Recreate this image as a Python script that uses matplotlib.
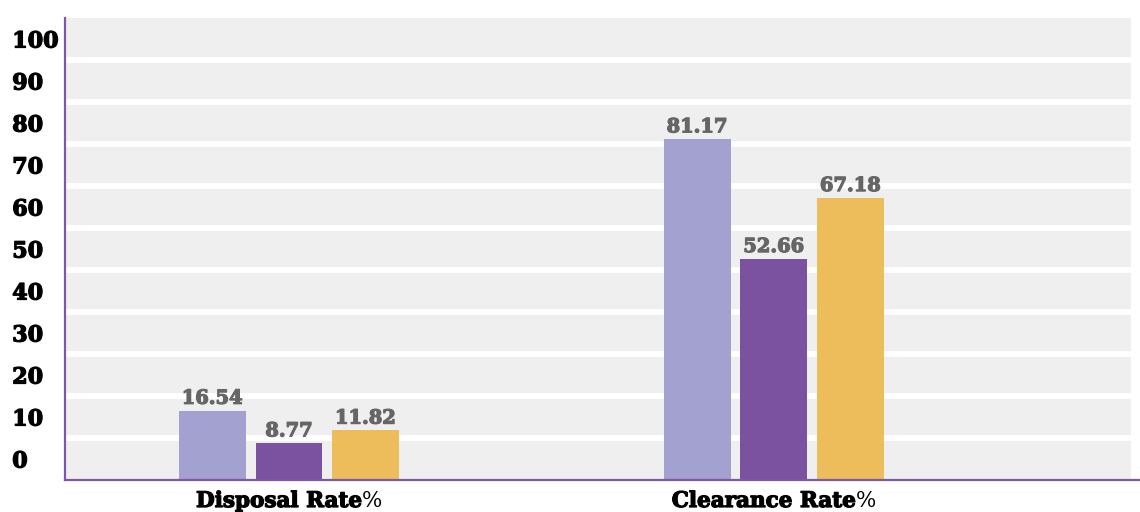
import numpy as np
import matplotlib
matplotlib.use("Agg")
from matplotlib import pyplot as plt
from matplotlib import patheffects as pe

# rates per category, three series each
categories = ["Disposal Rate", "Clearance Rate"]
series_a = [16.54, 81.17]
series_b = [8.77, 52.66]
series_c = [11.82, 67.18]
y_ticks = [0, 10, 20, 30, 40, 50, 60, 70, 80, 90, 100]

colors = ["#a3a1cf", "#7b52a0", "#edbd5b"]
purple = "#7e57a7"
band_gray = "#efefef"
serif = ["DejaVu Serif"]


def heavy(color):
    # thicken the bold serif a little
    return [pe.withStroke(linewidth=0.9, foreground=color)]


fig = plt.figure(figsize=(11.4, 5.12), dpi=100)
ax = fig.add_axes([65 / 1140, 32 / 512, 1075 / 1140, 462 / 512])

x = np.arange(len(categories))
width = 0.138
step = 0.158

# gray banded background with white separators
ax.axhspan(0, 110, xmin=0, xmax=0.9916, color=band_gray, zorder=0, lw=0)
for v in y_ticks[1:]:
    ax.axhline(v, xmin=0, xmax=0.9916, color="white", lw=4.2, zorder=1)

for i, (vals, c) in enumerate(zip([series_a, series_b, series_c], colors)):
    bars = ax.bar(x + (i - 1) * step, vals, width, color=c, zorder=2)
    ax.bar_label(bars, labels=[f"{v:.2f}" for v in vals], padding=2,
                 color="#666666", fontsize=14, fontweight="bold",
                 family=serif, path_effects=heavy("#666666"))

ax.set_xlim(-0.462, 1.755)
ax.set_ylim(0, 110)

# y labels sit in the middle of each band
ax.set_yticks([v + 5 for v in y_ticks])
ax.set_yticklabels([str(v) for v in y_ticks])
ax.tick_params(axis="y", length=0, pad=38)
for lbl in ax.get_yticklabels():
    lbl.set_ha("left")
    lbl.set_fontsize(16)
    lbl.set_fontweight("bold")
    lbl.set_family(serif)
    lbl.set_color("black")
    lbl.set_path_effects(heavy("black"))

ax.set_xticks([])

# category names: bold name followed by a plain percent sign, centred together
names = []
pcts = []
for xi, name in zip(x, categories):
    t = ax.annotate(name, xy=(xi, 0), xycoords=("data", "axes fraction"),
                    xytext=(0, -10), textcoords="offset pixels",
                    ha="center", va="top", fontsize=15.5, fontweight="bold",
                    family=serif, color="black", path_effects=heavy("black"))
    p = ax.annotate("%", xy=(1, 0), xycoords=t, ha="left", va="bottom",
                    fontsize=15.5, family=serif, color="black")
    names.append(t)
    pcts.append(p)

fig.canvas.draw()
for t, p in zip(names, pcts):
    w = p.get_window_extent().width
    t.xyann = (-w / 2, -10)

for side in ["top", "right"]:
    ax.spines[side].set_visible(False)
for side in ["left", "bottom"]:
    ax.spines[side].set_color(purple)
    ax.spines[side].set_linewidth(1.6)

fig.savefig("out.png", dpi=100, facecolor="white")
